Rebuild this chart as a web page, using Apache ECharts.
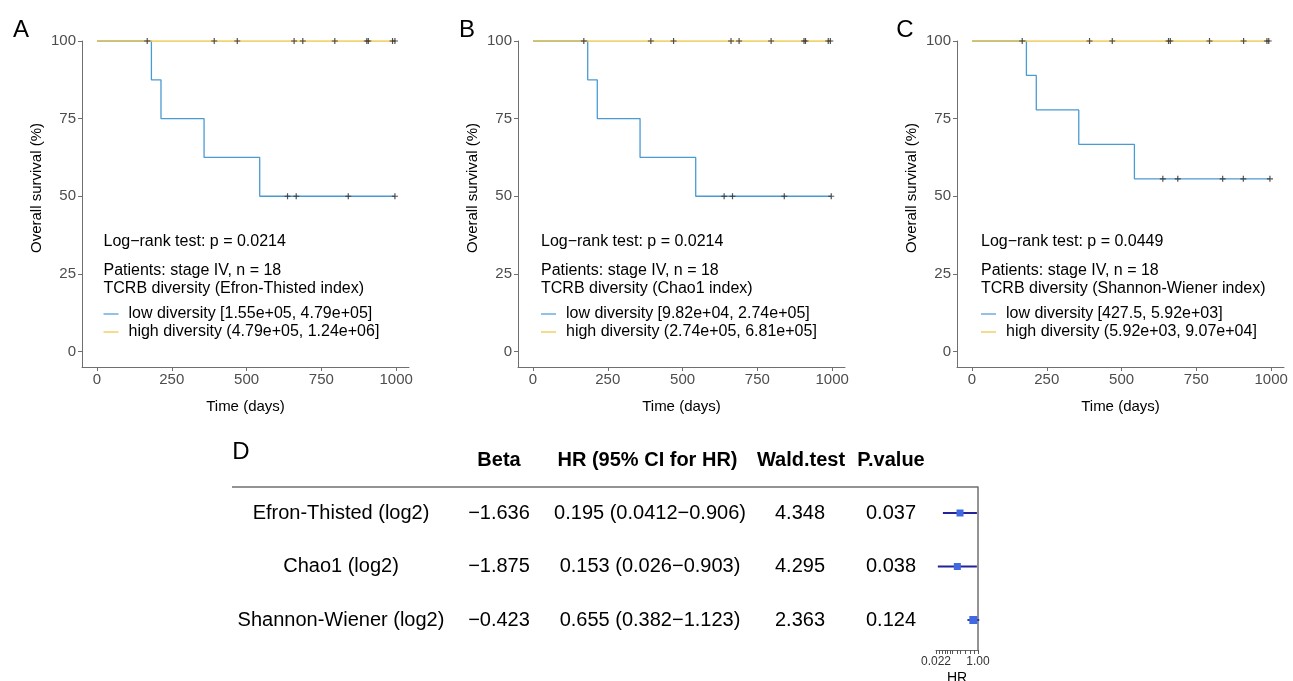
<!DOCTYPE html>
<html><head><meta charset="utf-8">
<script src="https://cdn.jsdelivr.net/npm/echarts@6/dist/echarts.min.js"></script>
<style>html,body{margin:0;padding:0;background:#fff}#c{width:1293px;height:681px}</style>
</head><body><div id="c"></div>
<script>
const FONT = '"Liberation Sans", Arial, Helvetica, sans-serif';
const BLUE = '#4A9AD4';
const YELLOW = '#EFC443';

// ---- Kaplan-Meier panels ----
const timeTicks = [0, 250, 500, 750, 1000];
const survTicks = [0, 25, 50, 75, 100];
const panelLetters = ['A', 'B', 'C'];
const pValues = ['0.0214', '0.0214', '0.0449'];
const indexNames = ['Efron-Thisted', 'Chao1', 'Shannon-Wiener'];
const patientsText = 'Patients: stage IV, n = 18';
const lowLabels = ['low diversity [1.55e+05, 4.79e+05]', 'low diversity [9.82e+04, 2.74e+05]', 'low diversity [427.5, 5.92e+03]'];
const highLabels = ['high diversity (4.79e+05, 1.24e+06]', 'high diversity (2.74e+05, 6.81e+05]', 'high diversity (5.92e+03, 9.07e+04]'];

// Panel A
const lowTimesA = [0, 182, 214, 358, 544, 996];
const lowSurvA = [100, 87.5, 75, 62.5, 50, 50];
const lowCensorA = [637, 666, 840, 996];
const highTimesA = [0, 996];
const highSurvA = [100, 100];
const highCensorA = [168, 392, 469, 659, 688, 795, 902, 907, 988, 996];
// Panel B
const lowTimesB = [0, 183, 215, 358, 544, 997];
const lowSurvB = [100, 87.5, 75, 62.5, 50, 50];
const lowCensorB = [639, 667, 840, 997];
const highTimesB = [0, 994];
const highSurvB = [100, 100];
const highCensorB = [170, 394, 470, 662, 689, 796, 906, 911, 987, 994];
// Panel C
const lowTimesC = [0, 182, 215, 357, 543, 996];
const lowSurvC = [100, 88.9, 77.8, 66.7, 55.6, 55.6];
const lowCensorC = [638, 688, 838, 907, 996];
const highTimesC = [0, 992];
const highSurvC = [100, 100];
const highCensorC = [168, 393, 469, 657, 663, 794, 908, 986, 992];

// ---- Cox model table / forest plot ----
const coxHeaders = ['Beta', 'HR (95% CI for HR)', 'Wald.test', 'P.value'];
const coxNames = ['Efron-Thisted (log2)', 'Chao1 (log2)', 'Shannon-Wiener (log2)'];
const coxBeta = [-1.636, -1.875, -0.423];
const coxHR = [0.195, 0.153, 0.655];
const coxLo = [0.0412, 0.026, 0.382];
const coxHi = [0.906, 0.903, 1.123];
const coxWald = [4.348, 4.295, 2.363];
const coxP = [0.037, 0.038, 0.124];
const hrTickValues = [0.022, 0.03, 0.04, 0.05, 0.06, 0.08, 0.1, 0.15, 0.2, 0.3, 0.5, 0.7, 1];
const hrLabelValues = [0.022, 1];

const panels = [
  {low: [lowTimesA, lowSurvA, lowCensorA], high: [highTimesA, highSurvA, highCensorA]},
  {low: [lowTimesB, lowSurvB, lowCensorB], high: [highTimesB, highSurvB, highCensorB]},
  {low: [lowTimesC, lowSurvC, lowCensorC], high: [highTimesC, highSurvC, highCensorC]}
];

function levelAt(times, surv, t) {
  let v = surv[0];
  for (let i = 0; i < times.length; i++) if (times[i] <= t) v = surv[i];
  return v;
}
const minus = s => s.replace('-', '\u2212');

// layout
const gridLeft = [82, 518, 957];
const annX = [103.5, 541, 981];
const yTitleX = [36.5, 472.5, 911.5];
const letterX = [21, 467, 905];

const PLUS = 'path://M2,0 L3,0 L3,2 L5,2 L5,3 L3,3 L3,5 L2,5 L2,3 L0,3 L0,2 L2,2 Z';

const grids = [], xAxes = [], yAxes = [], series = [], legends = [], graphics = [];

panels.forEach((p, i) => {
  grids.push({left: gridLeft[i], top: 41, width: 327, height: 326, outerBoundsMode: 'none', containLabel: false});
  xAxes.push({
    type: 'value', gridIndex: i, min: -50, max: 1043,
    axisLine: {show: true, onZero: false, lineStyle: {color: '#6f6f6f', width: 1}},
    axisTick: {show: true, length: 4, customValues: timeTicks, lineStyle: {color: '#6f6f6f'}},
    axisLabel: {customValues: timeTicks, fontSize: 15, color: '#4d4d4d', fontFamily: FONT, margin: 5,
      formatter: v => String(v)},
    splitLine: {show: false},
    name: 'Time (days)', nameLocation: 'middle', nameGap: 32,
    nameTextStyle: {fontSize: 15, color: '#000', fontFamily: FONT}
  });
  yAxes.push({
    type: 'value', gridIndex: i, min: -5, max: 100,
    axisLine: {show: true, onZero: false, lineStyle: {color: '#6f6f6f', width: 1}},
    axisTick: {show: true, length: 4, customValues: survTicks, lineStyle: {color: '#6f6f6f'}},
    axisLabel: {customValues: survTicks, fontSize: 15, color: '#4d4d4d', fontFamily: FONT, margin: 6,
      formatter: v => String(v)},
    splitLine: {show: false}
  });
  const groups = [[p.low, BLUE, lowLabels[i]], [p.high, YELLOW, highLabels[i]]];
  groups.forEach(([g, col, name]) => {
    series.push({
      type: 'line', name: name, xAxisIndex: i, yAxisIndex: i, step: 'end',
      data: g[0].map((t, k) => [t, g[1][k]]),
      symbol: 'none', showSymbol: false, silent: true,
      itemStyle: {color: col}, lineStyle: {color: col, width: 1.3}
    });
  });
  groups.forEach(([g], gi) => {
    series.push({
      type: 'scatter', name: 'censor' + i + '_' + gi, xAxisIndex: i, yAxisIndex: i,
      data: g[2].map(t => [t, levelAt(g[0], g[1], t)]),
      symbol: PLUS, symbolSize: 6, silent: true, z: 5,
      itemStyle: {color: '#333', opacity: 0.85}
    });
  });
  legends.push({
    data: [lowLabels[i], highLabels[i]], orient: 'vertical', left: annX[i], top: 306,
    icon: 'path://M0,0 L15,0 L15,1.2 L0,1.2 Z', itemWidth: 15, itemHeight: 14, itemGap: 2, padding: 0,
    selectedMode: false,
    textStyle: {fontSize: 16, color: '#000', fontFamily: FONT, padding: [0, 0, 0, 5], lineHeight: 16}
  });
  const tx = (x, y, text, extra) => Object.assign({
    type: 'text', x: x, y: y, silent: true,
    style: Object.assign({text: text, fontSize: 16, fontFamily: FONT, fill: '#000', align: 'left', verticalAlign: 'middle'}, extra || {})
  });
  graphics.push(tx(annX[i], 242, 'Log\u2212rank test: p = ' + pValues[i]));
  graphics.push(tx(annX[i], 271, patientsText));
  graphics.push(tx(annX[i], 289, 'TCRB diversity (' + indexNames[i] + ' index)'));
  graphics.push(Object.assign(tx(yTitleX[i], 188, 'Overall survival (%)', {fontSize: 15, align: 'center'}), {rotation: Math.PI / 2}));
  graphics.push(tx(letterX[i], 30, panelLetters[i], {fontSize: 24, align: 'center'}));
});

// forest grid
grids.push({left: 936, top: 487, width: 42, height: 163, outerBoundsMode: 'none', containLabel: false});
xAxes.push({
  type: 'log', logBase: 10, gridIndex: 3, min: 0.022, max: 1,
  axisLine: {show: true, onZero: false, lineStyle: {color: '#6f6f6f', width: 1}},
  axisTick: {show: true, length: 4, customValues: hrTickValues, lineStyle: {color: '#555'}},
  axisLabel: {customValues: hrLabelValues, fontSize: 12, color: '#333', fontFamily: FONT, margin: 6,
    formatter: v => (Math.abs(v - 1) < 1e-9 ? '1.00' : String(+(+v).toFixed(3)))},
  splitLine: {show: false}, minorTick: {show: false},
  name: 'HR', nameLocation: 'middle', nameGap: 21,
  nameTextStyle: {fontSize: 14, color: '#000', fontFamily: FONT}
});
yAxes.push({
  type: 'value', gridIndex: 3, inverse: true, min: 0.514, max: 3.561, position: 'right',
  axisLine: {show: true, onZero: false, lineStyle: {color: '#6f6f6f', width: 1.5}},
  axisTick: {show: false}, axisLabel: {show: false}, splitLine: {show: false}
});
series.push({
  type: 'custom', xAxisIndex: 3, yAxisIndex: 3, silent: true, clip: false,
  data: coxHR.map((h, i) => [h, coxLo[i], coxHi[i], i + 1]),
  encode: {x: [0, 1, 2], y: 3},
  renderItem: (params, api) => {
    const row = api.value(3);
    const c = api.coord([api.value(0), row]);
    const a = api.coord([api.value(1), row]);
    const b = api.coord([api.value(2), row]);
    const s = row === 3 ? 8 : 7;
    return {type: 'group', children: [
      {type: 'line', shape: {x1: a[0], y1: a[1], x2: b[0], y2: b[1]}, style: {stroke: '#23239a', lineWidth: 1.8}},
      {type: 'rect', shape: {x: c[0] - s / 2, y: c[1] - s / 2, width: s, height: s}, style: {fill: '#4169E1'}}
    ]};
  }
});

// table text
const headerX = [499, 647.5, 801, 891];
const colX = [341, 499, 650, 800, 891];
const rowY = [513, 566.5, 620];
const ttx = (x, y, text, bold) => ({
  type: 'text', x: x, y: y, silent: true,
  style: {text: text, fontSize: 20, fontWeight: bold ? 'bold' : 'normal', fontFamily: FONT, fill: '#000', align: 'center', verticalAlign: 'middle'}
});
coxHeaders.forEach((h, k) => graphics.push(ttx(headerX[k], 460, h, true)));
coxNames.forEach((n, r) => {
  const cells = [
    n,
    minus(coxBeta[r].toFixed(3)),
    coxHR[r] + ' (' + coxLo[r] + '\u2212' + coxHi[r] + ')',
    coxWald[r].toFixed(3),
    coxP[r].toFixed(3)
  ];
  cells.forEach((c, k) => graphics.push(ttx(colX[k], rowY[r], c, false)));
});
graphics.push({type: 'line', silent: true, shape: {x1: 232, y1: 487, x2: 978, y2: 487}, style: {stroke: '#6f6f6f', lineWidth: 1.5}});
graphics.push({type: 'text', x: 241, y: 452, silent: true,
  style: {text: 'D', fontSize: 24, fontFamily: FONT, fill: '#000', align: 'center', verticalAlign: 'middle'}});

const chart = echarts.init(document.getElementById('c'), null, {renderer: 'canvas'});
chart.setOption({
  animation: false,
  backgroundColor: '#fff',
  textStyle: {fontFamily: FONT},
  grid: grids, xAxis: xAxes, yAxis: yAxes, series: series, legend: legends,
  graphic: graphics
});
</script></body></html>
